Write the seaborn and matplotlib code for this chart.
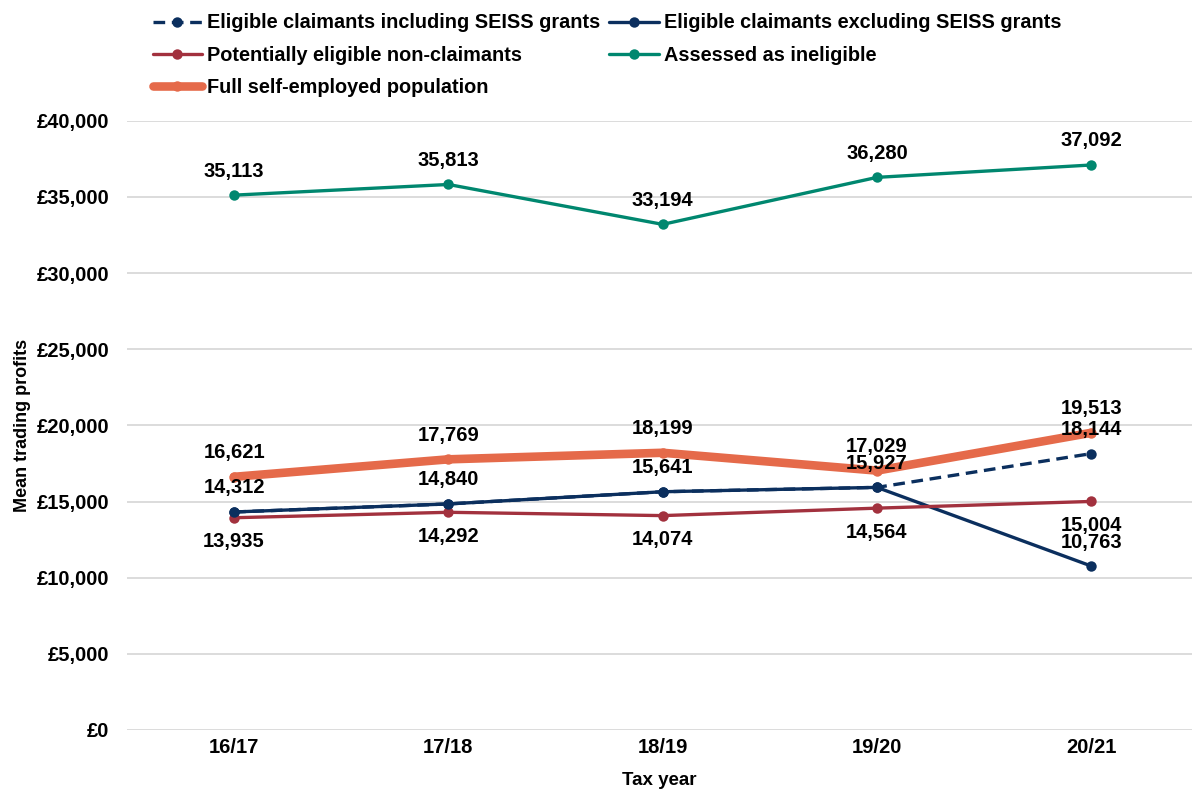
import matplotlib
matplotlib.use("Agg")
import matplotlib.pyplot as plt
import seaborn as sns
import pandas as pd
from matplotlib.ticker import FuncFormatter

sns.set_theme(style="white")
plt.rcParams["font.family"] = ["Liberation Sans", "DejaVu Sans"]
plt.rcParams["font.weight"] = "bold"

years = ["16/17", "17/18", "18/19", "19/20", "20/21"]
incl_seiss = [14312, 14840, 15641, 15927, 18144]
excl_seiss = [14312, 14840, 15641, 15927, 10763]
non_claimants = [13935, 14292, 14074, 14564, 15004]
ineligible = [35113, 35813, 33194, 36280, 37092]
full_pop = [16621, 17769, 18199, 17029, 19513]

names = [
    "Eligible claimants including SEISS grants",
    "Eligible claimants excluding SEISS grants",
    "Potentially eligible non-claimants",
    "Assessed as ineligible",
    "Full self-employed population",
]
series = [incl_seiss, excl_seiss, non_claimants, ineligible, full_pop]
colors = ["#0B2F5E", "#0B2F5E", "#A2313E", "#00876F", "#E56A4A"]
widths = [2.4, 2.4, 2.4, 2.4, 6.2]
dashed = [True, False, False, False, False]
zorders = [4, 3, 3, 3, 5]

xpos = list(range(len(years)))

fig = plt.figure(figsize=(11.92, 7.92), dpi=100)
ax = fig.add_axes([0.1065, 0.0783, 0.8935, 0.7693])

for name, vals, c, lw, dsh, z in zip(names, series, colors, widths, dashed, zorders):
    df = pd.DataFrame({"x": xpos, "y": vals})
    sns.lineplot(data=df, x="x", y="y", ax=ax, color=c, linewidth=lw,
                 marker="o", markersize=7.5, markeredgewidth=0,
                 label=name, zorder=z, errorbar=None)
    if dsh:
        ax.lines[-1].set_dashes((3.5, 2.0))

handles, labs = ax.get_legend_handles_labels()
if ax.get_legend() is not None:
    ax.get_legend().remove()

ax.set_xlim(-0.5, 4.47)
ax.set_ylim(0, 40000)
ax.set_yticks(range(0, 40001, 5000))
ax.yaxis.set_major_formatter(FuncFormatter(lambda v, p: f"£{int(v):,}"))
ax.set_xticks(xpos)
ax.set_xticklabels(years)
ax.grid(axis="y", color="#D9D9D9", linewidth=1.3)
ax.grid(axis="x", visible=False)
for s in ax.spines.values():
    s.set_visible(False)
ax.tick_params(axis="both", length=0, labelsize=14.5)
ax.tick_params(axis="y", pad=12.5)
ax.tick_params(axis="x", pad=5.5)
for t in ax.get_xticklabels() + ax.get_yticklabels():
    t.set_fontweight("bold")
    t.set_color("#000000")
ax.set_xlabel("Tax year", fontsize=13.5, fontweight="bold", labelpad=11, color="#000000")
ax.set_ylabel("Mean trading profits", fontsize=13, fontweight="bold", labelpad=4.5, color="#000000")


def label(vals, above, only=None):
    for i, v in enumerate(vals):
        if only is not None and i not in only:
            continue
        ax.annotate(f"{v:,}", (i, v), textcoords="offset pixels",
                    xytext=(0, 24 if above else -24), ha="center", va="center",
                    fontsize=14.5, fontweight="bold", color="#000000", zorder=10)


label(ineligible, True)
label(full_pop, True)
label(incl_seiss, True)
label(excl_seiss, True, only=[4])
label(non_claimants, False)

order = [0, 2, 4, 1, 3]
leg = fig.legend([handles[i] for i in order], [labs[i] for i in order],
                 loc="upper left", bbox_to_anchor=(0.128, 0.983), ncol=2,
                 frameon=False, fontsize=14.3, handlelength=2.5, handletextpad=0.25,
                 columnspacing=0.45, labelspacing=0.66, borderpad=0,
                 borderaxespad=0)
for t in leg.get_texts():
    t.set_fontweight("bold")
    t.set_color("#000000")

fig.savefig("out.png", dpi=100)
